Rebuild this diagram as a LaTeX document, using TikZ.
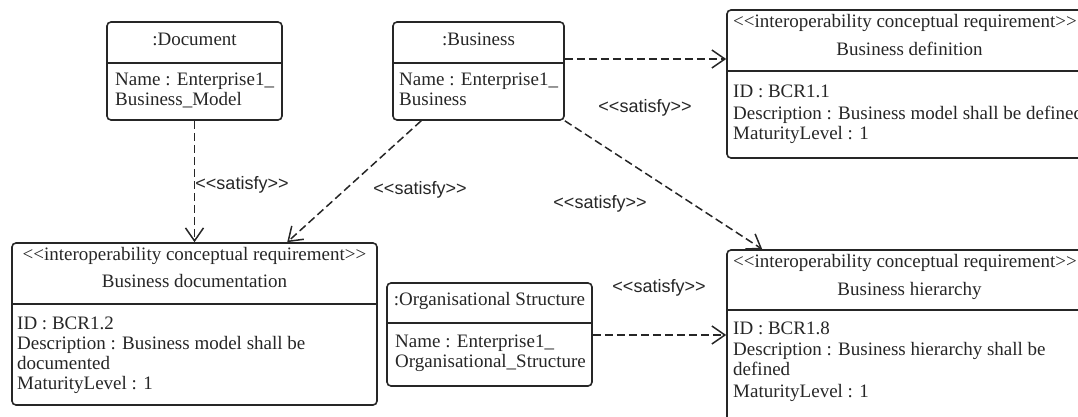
\documentclass[tikz,border=0pt]{standalone}
\usepackage{fontspec}
\setmainfont{Liberation Serif}
\newfontfamily\lblfont{Liberation Sans}
\usetikzlibrary{arrows.meta,calc}
\newcommand\lqq{<\kern0pt<}
\newcommand\rqq{>\kern0pt>}
\begin{document}
\begin{tikzpicture}[x=1pt,y=-1pt,
  box/.style={draw=black!85,line width=1.6pt,rounded corners=4pt,inner sep=0pt},
  divline/.style={draw=black!85,line width=1.6pt},
  txt/.style={font=\fontsize{19}{20}\selectfont,inner sep=0pt,text=black!85},
  hd/.style={txt,anchor=mid},
  bd/.style={txt,anchor=mid west},
  sat/.style={font=\lblfont\fontsize{18}{20}\selectfont,inner sep=0pt,text=black!85},
  dep/.style={draw=black!85,line width=1.5pt,dash pattern=on 8pt off 4pt,
    -{Straight Barb[length=13pt,width=18pt,line width=1.5pt]}}
]
\useasboundingbox (0,0) rectangle (1078,417);
\clip (0,0) rectangle (1078,417);

% :Document
\node[box,minimum width=175pt,minimum height=98pt] (doc) at (194.5,71) {};
\draw[divline] (doc.west |- 0,63) -- (doc.east |- 0,63);
\node[hd] (docH) at (194.5,43) {:Document};
\node[bd] (docB1) at (115,83) {Name : Enterprise1\_};
\node[bd] (docB2) at (115,103) {Business\_Model};

% :Business
\node[box,minimum width=171pt,minimum height=98pt] (bus) at (478.5,71) {};
\draw[divline] (bus.west |- 0,63) -- (bus.east |- 0,63);
\node[hd] (busH) at (478.5,43) {:Business};
\node[bd] (busB1) at (399,83) {Name : Enterprise1\_};
\node[bd] (busB2) at (399,103) {Business};

% Business definition
\node[box,minimum width=365pt,minimum height=148pt] (bdef) at (909.5,84) {};
\draw[divline] (bdef.west |- 0,71) -- (bdef.east |- 0,71);
\node[hd] (bdefH1) at (905,25) {\lqq interoperability conceptual requirement\rqq};
\node[hd] (bdefH2) at (909.5,53) {Business definition};
\node[bd] (bdefB1) at (733,95) {ID : BCR1.1};
\node[bd] (bdefB2) at (733,117) {Description : Business model shall be defined};
\node[bd] (bdefB3) at (733,137) {MaturityLevel : 1};

% Business documentation
\node[box,minimum width=365pt,minimum height=162pt] (bdoc) at (194.5,324) {};
\draw[divline] (bdoc.west |- 0,304) -- (bdoc.east |- 0,304);
\node[hd] (bdocH1) at (194.5,258) {\lqq interoperability conceptual requirement\rqq};
\node[hd] (bdocH2) at (194.5,285) {Business documentation};
\node[bd] (bdocB1) at (17,327) {ID : BCR1.2};
\node[bd] (bdocB2) at (17,347) {Description : Business model shall be};
\node[bd] (bdocB3) at (17,367) {documented};
\node[bd] (bdocB4) at (17,387) {MaturityLevel : 1};

% :Organisational Structure
\node[box,minimum width=205pt,minimum height=103pt] (org) at (489.5,334.5) {};
\draw[divline] (org.west |- 0,323) -- (org.east |- 0,323);
\node[hd] (orgH) at (489.5,303) {:Organisational Structure};
\node[bd] (orgB1) at (395,345) {Name : Enterprise1\_};
\node[bd] (orgB2) at (395,365) {Organisational\_Structure};

% Business hierarchy
\node[box,minimum width=365pt,minimum height=200pt] (bhier) at (909.5,350) {};
\draw[divline] (bhier.west |- 0,310) -- (bhier.east |- 0,310);
\node[hd] (bhierH1) at (905,265) {\lqq interoperability conceptual requirement\rqq};
\node[hd] (bhierH2) at (909.5,293) {Business hierarchy};
\node[bd] (bhierB1) at (733,332) {ID : BCR1.8};
\node[bd] (bhierB2) at (733,353) {Description : Business hierarchy shall be};
\node[bd] (bhierB3) at (733,373) {defined};
\node[bd] (bhierB4) at (733,395) {MaturityLevel : 1};

% connectors
\draw[dep] (doc.south) -- (bdoc.north);
\draw[dep] ([xshift=29pt]bus.south west) -- ([xshift=276pt]bdoc.north west);
\draw[dep] (bus.east |- 0,59) -- (bdef.west |- 0,59);
\draw[dep] (bus.south east) -- ([xshift=36pt]bhier.north west);
\draw[dep] (org.east |- 0,335) -- (bhier.west |- 0,335);

% labels
\node[sat] (s1) at (242,185) {\lqq satisfy\rqq};
\node[sat] (s2) at (420,190) {\lqq satisfy\rqq};
\node[sat] (s3) at (645,108) {\lqq satisfy\rqq};
\node[sat] (s4) at (600,204) {\lqq satisfy\rqq};
\node[sat] (s5) at (659,288) {\lqq satisfy\rqq};
\end{tikzpicture}
\end{document}
